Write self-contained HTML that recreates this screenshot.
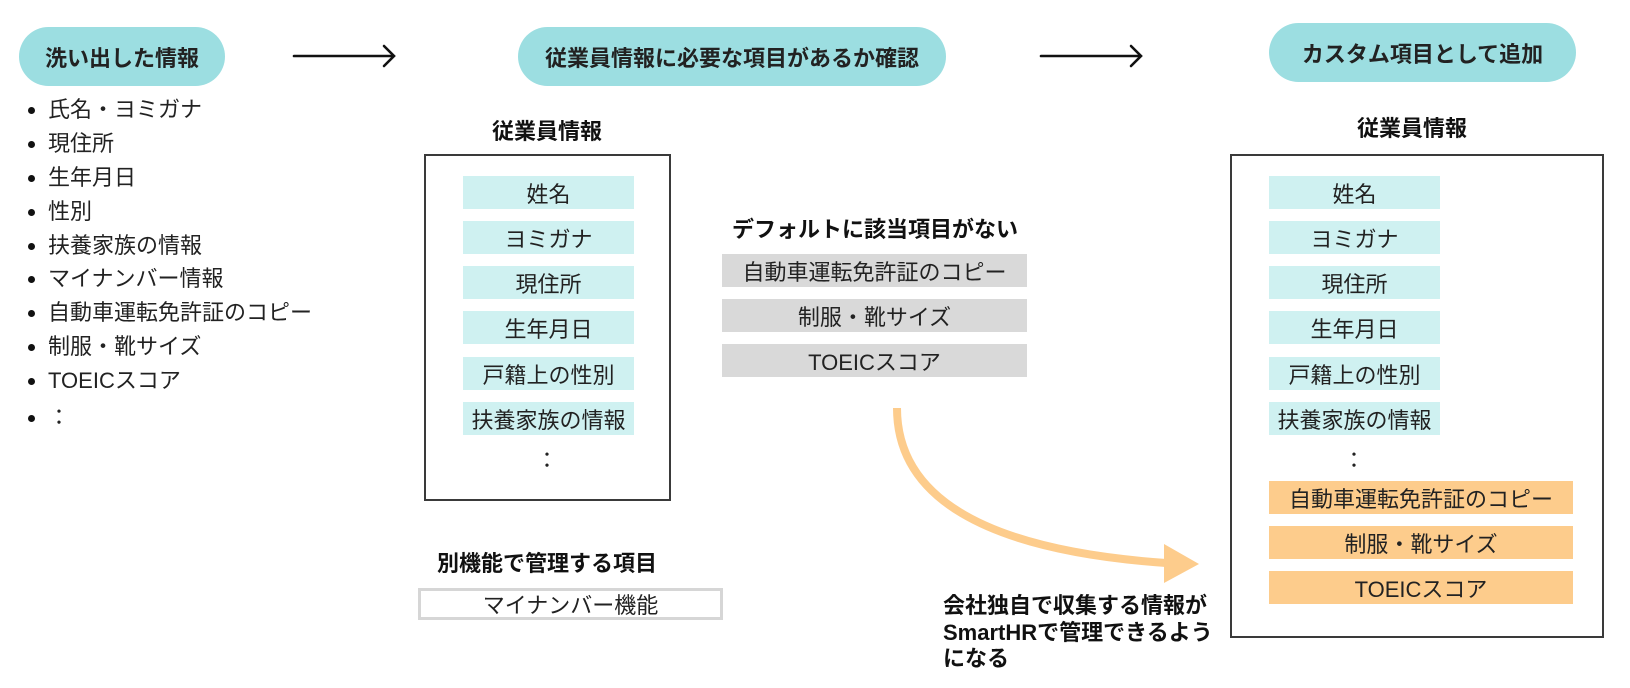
<!DOCTYPE html>
<html>
<head>
<meta charset="utf-8">
<style>
  html,body{margin:0;padding:0;background:#fff;}
  body{width:1630px;height:688px;position:relative;overflow:hidden;
       font-family:"Liberation Sans","Noto Sans CJK JP",sans-serif;color:#222;}
  .a{position:absolute;}
  .c{position:absolute;display:flex;align-items:center;justify-content:center;white-space:nowrap;}
  .pill{background:#9cdee1;border-radius:30px;font-weight:700;font-size:22px;color:#222;}
  .hd{font-weight:700;font-size:22px;color:#111;}
  .box{position:absolute;border:2px solid #3a3a3a;box-sizing:border-box;background:#fff;}
  .cy{background:#cff1f1;font-size:22px;}
  .gr{background:#d9d9d9;font-size:22px;}
  .or{background:#fdcc8c;font-size:22px;}
  .li{position:absolute;left:48px;font-size:22px;line-height:30px;height:30px;white-space:nowrap;}
  .dot{position:absolute;left:28px;width:7px;height:7px;border-radius:50%;background:#111;}
</style>
</head>
<body>

<!-- Pills -->
<div class="c pill" style="left:19px;top:27px;width:206px;height:59px;">洗い出した情報</div>
<div class="c pill" style="left:518px;top:27px;width:428px;height:59px;">従業員情報に必要な項目があるか確認</div>
<div class="c pill" style="left:1269px;top:23px;width:307px;height:59px;">カスタム項目として追加</div>

<!-- Arrows -->
<svg class="a" style="left:0;top:0;" width="1630" height="688">
  <g stroke="#111" stroke-width="2.6" fill="none" stroke-linecap="round" stroke-linejoin="miter">
    <line x1="294" y1="56" x2="392" y2="56"/>
    <polyline points="384,46 394,56 384,66"/>
    <line x1="1041" y1="56" x2="1139" y2="56"/>
    <polyline points="1131,46 1141,56 1131,66"/>
  </g>
  <path d="M897,408 C897,495 980,550 1166,563" stroke="#fdcc8c" stroke-width="8" fill="none"/>
  <polygon points="1164,544 1199,564 1164,583" fill="#fdcc8c"/>
</svg>

<!-- Left list -->
<div class="dot" style="top:107px;"></div><div class="li" style="top:95px;">氏名・ヨミガナ</div>
<div class="dot" style="top:141px;"></div><div class="li" style="top:129px;">現住所</div>
<div class="dot" style="top:175px;"></div><div class="li" style="top:163px;">生年月日</div>
<div class="dot" style="top:209px;"></div><div class="li" style="top:197px;">性別</div>
<div class="dot" style="top:243px;"></div><div class="li" style="top:231px;">扶養家族の情報</div>
<div class="dot" style="top:276px;"></div><div class="li" style="top:264px;">マイナンバー情報</div>
<div class="dot" style="top:310px;"></div><div class="li" style="top:298px;">自動車運転免許証のコピー</div>
<div class="dot" style="top:344px;"></div><div class="li" style="top:332px;">制服・靴サイズ</div>
<div class="dot" style="top:378px;"></div><div class="li" style="top:366px;">TOEICスコア</div>
<div class="dot" style="top:415px;"></div><div class="li" style="top:403px;">：</div>

<!-- Box 1 -->
<div class="c hd" style="left:447px;top:115px;width:200px;height:30px;">従業員情報</div>
<div class="box" style="left:424px;top:154px;width:247px;height:347px;"></div>
<div class="c cy" style="left:463px;top:176px;width:171px;height:33px;">姓名</div>
<div class="c cy" style="left:463px;top:221px;width:171px;height:33px;">ヨミガナ</div>
<div class="c cy" style="left:463px;top:266px;width:171px;height:33px;">現住所</div>
<div class="c cy" style="left:463px;top:311px;width:171px;height:33px;">生年月日</div>
<div class="c cy" style="left:463px;top:357px;width:171px;height:33px;">戸籍上の性別</div>
<div class="c cy" style="left:463px;top:402px;width:171px;height:33px;">扶養家族の情報</div>
<div class="c" style="left:497px;top:444px;width:100px;height:30px;font-size:22px;">：</div>

<!-- Separate feature -->
<div class="c hd" style="left:397px;top:547px;width:300px;height:30px;">別機能で管理する項目</div>
<div class="c" style="left:418px;top:588px;width:305px;height:32px;border:3px solid #d6d6d6;box-sizing:border-box;font-size:22px;">マイナンバー機能</div>

<!-- Middle: default missing -->
<div class="c hd" style="left:700px;top:213px;width:350px;height:30px;">デフォルトに該当項目がない</div>
<div class="c gr" style="left:722px;top:254px;width:305px;height:33px;">自動車運転免許証のコピー</div>
<div class="c gr" style="left:722px;top:299px;width:305px;height:33px;">制服・靴サイズ</div>
<div class="c gr" style="left:722px;top:344px;width:305px;height:33px;">TOEICスコア</div>

<!-- Caption -->
<div class="a hd" style="left:943px;top:593px;font-size:22px;line-height:26.5px;white-space:nowrap;">会社独自で収集する情報が<br>SmartHRで管理できるよう<br>になる</div>

<!-- Box 3 -->
<div class="c hd" style="left:1312px;top:112px;width:200px;height:30px;">従業員情報</div>
<div class="box" style="left:1230px;top:154px;width:374px;height:484px;"></div>
<div class="c cy" style="left:1269px;top:176px;width:171px;height:33px;">姓名</div>
<div class="c cy" style="left:1269px;top:221px;width:171px;height:33px;">ヨミガナ</div>
<div class="c cy" style="left:1269px;top:266px;width:171px;height:33px;">現住所</div>
<div class="c cy" style="left:1269px;top:311px;width:171px;height:33px;">生年月日</div>
<div class="c cy" style="left:1269px;top:357px;width:171px;height:33px;">戸籍上の性別</div>
<div class="c cy" style="left:1269px;top:402px;width:171px;height:33px;">扶養家族の情報</div>
<div class="c" style="left:1304px;top:444px;width:100px;height:30px;font-size:22px;">：</div>
<div class="c or" style="left:1269px;top:481px;width:304px;height:33px;">自動車運転免許証のコピー</div>
<div class="c or" style="left:1269px;top:526px;width:304px;height:33px;">制服・靴サイズ</div>
<div class="c or" style="left:1269px;top:571px;width:304px;height:33px;">TOEICスコア</div>

</body>
</html>
